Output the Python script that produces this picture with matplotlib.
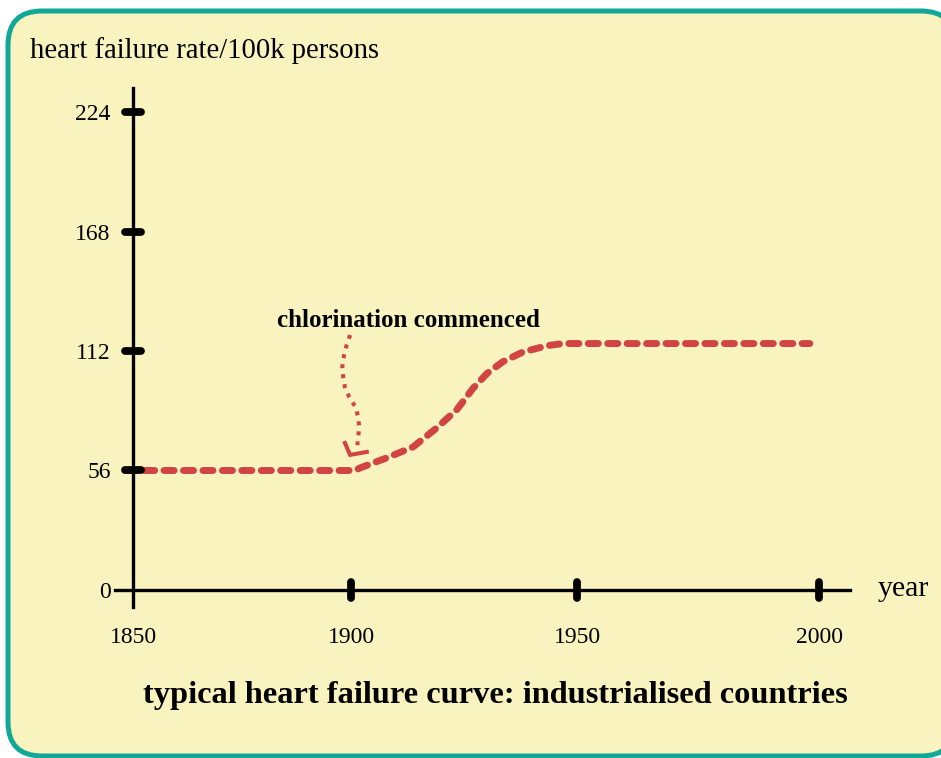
import numpy as np
import matplotlib
matplotlib.use('Agg')
import matplotlib.pyplot as plt
from matplotlib.patches import FancyBboxPatch
from matplotlib.markers import MarkerStyle
from matplotlib.transforms import IdentityTransform

plt.rcParams['font.family'] = ['Liberation Serif', 'DejaVu Serif']

# ---- data ----
years = [1848.2, 1900.9, 1902.0, 1908.0, 1913.7, 1919.0, 1923.4, 1927.0,
         1930.1, 1933.6, 1938.0, 1943.4, 1946.9, 1998.1]
rate = [56, 56, 57.2, 62, 67, 76, 84.5, 94.5, 101.5, 107, 111.5, 114.5, 115.5, 115.5]

arrow_years = [1899.8, 1899.0, 1898.4, 1898.0, 1898.2, 1898.6, 1899.6, 1901.0,
               1901.6, 1901.8, 1901.6, 1901.4]
arrow_rate = [119.5, 114.8, 110.1, 104.5, 99.8, 95.1, 90.4, 85.7, 81.0, 76.3, 71.6, 67.9]
arrowhead_years = [1898.6, 1899.8, 1903.5]
arrowhead_rate = [68.9, 63.3, 64.7]

xticks = [1850, 1900, 1950, 2000]
xtick_labels = ['1850', '1900', '1950', '2000']
yticks = [0, 56, 112, 168, 224]
ytick_labels = ['0', '56', '112', '168', '224']

annotation_text = 'chlorination commenced'
ylabel_text = 'heart failure rate/100k persons'
xlabel_text = 'year'
title_text = 'typical heart failure curve: industrialised countries'

# ---- style ----
BG = '#f9f4bf'
TEAL = '#12a898'
RED = '#d24444'

# piecewise linear year scale (axis as drawn is not uniform)
_ty = np.array([1850., 1900., 1950., 2000.])
_tp = np.array([0., 218., 444., 686.])

def _pw(x, xs, ys):
    x = np.asarray(x, dtype=float)
    y = np.interp(x, xs, ys)
    sl = (ys[1] - ys[0]) / (xs[1] - xs[0])
    sr = (ys[-1] - ys[-2]) / (xs[-1] - xs[-2])
    y = np.where(x < xs[0], ys[0] + (x - xs[0]) * sl, y)
    y = np.where(x > xs[-1], ys[-1] + (x - xs[-1]) * sr, y)
    return y

def fwd(x):
    return _pw(x, _ty, _tp)

def inv(p):
    return _pw(p, _tp, _ty)

W, H = 941, 758
fig = plt.figure(figsize=(W / 100, H / 100), dpi=100, facecolor='white')

frame = FancyBboxPatch((8, 2), 947, 745, boxstyle='round,pad=0,rounding_size=34',
                       transform=IdentityTransform(), facecolor=BG, edgecolor=TEAL,
                       linewidth=3.6, zorder=-10)
fig.add_artist(frame)

ax = fig.add_axes([115 / W, 1 - 607 / H, 735 / W, 519 / H])
ax.set_facecolor('none')
ax.set_xscale('function', functions=(fwd, inv))
ax.set_xlim(1845.87, 2006.4)
ax.set_ylim(-7.97, 235.25)

for s in ['top', 'right']:
    ax.spines[s].set_visible(False)
ax.spines['left'].set_position(('data', 1850))
ax.spines['bottom'].set_position(('data', 0))
for s in ['left', 'bottom']:
    ax.spines[s].set_linewidth(2.4)
    ax.spines[s].set_color('black')

ax.set_xticks(xticks)
ax.set_xticklabels(xtick_labels)
ax.set_yticks(yticks)
ax.set_yticklabels(ytick_labels)
ax.tick_params(axis='x', length=0, pad=27, labelsize=17)
ax.tick_params(axis='y', length=0, pad=16, labelsize=17)
ax.xaxis.set_minor_locator(matplotlib.ticker.NullLocator())

# curve
ax.plot(years, rate, color=RED, linewidth=5.0, dashes=(1.45, 1.35),
        dash_capstyle='round', clip_on=False, zorder=3)

# tick marks (rounded bars)
ax.plot([1850] * 4, yticks[1:], linestyle='none',
        marker=MarkerStyle('_', capstyle='round'), markersize=11.5,
        markeredgewidth=5.6, color='black', clip_on=False, zorder=5)
ax.plot(xticks[1:], [0] * 3, linestyle='none',
        marker=MarkerStyle('|', capstyle='round'), markersize=11.5,
        markeredgewidth=5.6, color='black', clip_on=False, zorder=5)

# dotted annotation arrow
ax.plot(arrow_years, arrow_rate, color=RED, linewidth=2.9, dashes=(1, 1.5),
        dash_capstyle='butt', clip_on=False, zorder=4)
ax.plot(arrowhead_years, arrowhead_rate, color=RED, linewidth=2.9,
        solid_capstyle='projecting', solid_joinstyle='miter', clip_on=False, zorder=4)

ax.text(1912.6, 126.5, annotation_text, ha='center', va='center',
        fontsize=18, fontweight='bold', color='black')

fig.text(30 / W, 1 - 51 / H, ylabel_text, ha='left', va='center', fontsize=20.6)
fig.text(878 / W, 1 - 589 / H, xlabel_text, ha='left', va='center', fontsize=21.5)
fig.text(495 / W, 1 - 695 / H, title_text, ha='center', va='center',
         fontsize=23.3, fontweight='bold')

fig.savefig('out.png', dpi=100, facecolor='white')
